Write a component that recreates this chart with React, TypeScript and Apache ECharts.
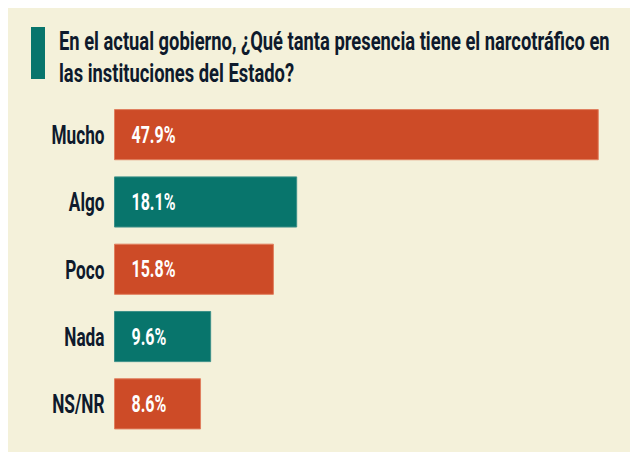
import React, { useEffect, useRef } from "react";
import * as echarts from "echarts";

const categories = ["Mucho", "Algo", "Poco", "Nada", "NS/NR"];
const values = [47.9, 18.1, 15.8, 9.6, 8.6];
const titleLines = [
  "En el actual gobierno, ¿Qué tanta presencia tiene el narcotráfico en",
  "las instituciones del Estado?",
];

const ORANGE = "#CD4B27";
const TEAL = "#08756C";
const INK = "#0E1A2C";
const BG = "#F4F1DA";
const FONT = "Roboto, 'DejaVu Sans', sans-serif";

function measure(text: string, size: number): number {
  const c = document.createElement("canvas").getContext("2d");
  if (!c) return text.length * size * 0.5;
  c.font = `bold ${size}px ${FONT}`;
  return c.measureText(text).width;
}

export default function App() {
  const ref = useRef<HTMLDivElement>(null);
  useEffect(() => {
    if (!ref.current) return;
    const chart = echarts.init(ref.current, undefined, { renderer: "svg" });
    const titleSize = 26;
    const titleScale = 551 / measure(titleLines[0], titleSize);
    const catSize = 26;
    const catScale = 53 / measure("Mucho", catSize);
    const valSize = 23;
    const valScale = 44 / measure("47.9%", valSize);

    chart.setOption({
      animation: false,
      backgroundColor: BG,
      graphic: [
        {
          type: "rect",
          shape: { x: 23, y: 19, width: 14, height: 52 },
          style: { fill: TEAL },
        },
        ...titleLines.map((line, i) => ({
          type: "text",
          x: 51,
          y: 32.5 + i * 32,
          scaleX: titleScale,
          style: {
            text: line,
            fontFamily: FONT,
            fontWeight: "bold",
            fontSize: titleSize,
            fill: INK,
            align: "left",
            verticalAlign: "middle",
          },
        })),
      ],
      grid: {
        left: 106,
        top: 93,
        width: 506,
        height: 336.5,
        containLabel: false,
        outerBoundsMode: "none",
      },
      xAxis: {
        type: "value",
        min: 0,
        max: 50,
        show: false,
      },
      yAxis: {
        type: "category",
        data: categories,
        inverse: true,
        axisLine: { show: false },
        axisTick: { show: false },
        axisLabel: { show: false },
      },
      series: [
        {
          type: "bar",
          barCategoryGap: "24%",
          data: values.map((v, i) => ({
            value: v,
            itemStyle: {
              color: i % 2 === 0 ? ORANGE : TEAL,
              borderColor: i % 2 === 0 ? "#E07F5E" : "#3C9088",
              borderWidth: 1,
            },
          })),
        },
        {
          type: "custom",
          encode: { x: 0, y: 1 },
          data: values.map((v, i) => [v, categories[i]]),
          z: 10,
          renderItem: (params: any, api: any) => {
            const i = params.dataIndex;
            const pt = api.coord([0, categories[i]]);
            return {
              type: "group",
              children: [
                {
                  type: "text",
                  x: pt[0] - 9.5,
                  y: pt[1] + 0.5,
                  scaleX: catScale,
                  style: {
                    text: categories[i],
                    fontFamily: FONT,
                    fontWeight: "bold",
                    fontSize: catSize,
                    fill: INK,
                    align: "right",
                    verticalAlign: "middle",
                  },
                },
                {
                  type: "text",
                  x: pt[0] + 17.5,
                  y: pt[1] + 0.5,
                  scaleX: valScale,
                  style: {
                    text: values[i].toFixed(1) + "%",
                    fontFamily: FONT,
                    fontWeight: "bold",
                    fontSize: valSize,
                    fill: "#FFFFFF",
                    align: "left",
                    verticalAlign: "middle",
                  },
                },
              ],
            };
          },
        },
      ],
    });
    return () => chart.dispose();
  }, []);
  return <div ref={ref} style={{ width: 630, height: 444 }} />;
}
